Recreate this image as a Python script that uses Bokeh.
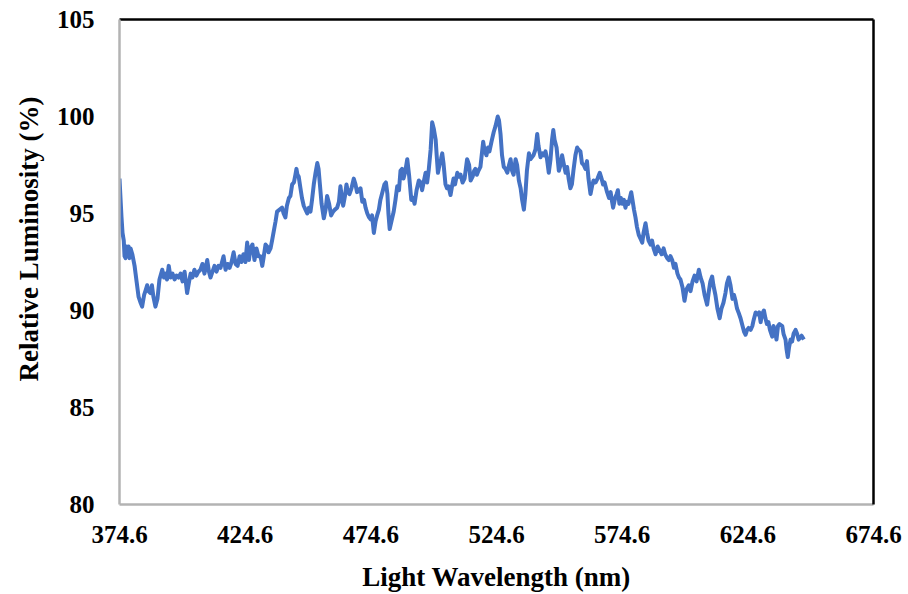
from bokeh.plotting import figure
from bokeh.models import FixedTicker, LinearAxis, PrintfTickFormatter, Range1d, Title
from bokeh.embed import file_html
from bokeh.resources import INLINE

wavelength = [
    374.6, 375.0, 375.4, 375.8, 376.3, 376.6, 377.0, 377.4, 377.8, 378.2, 378.6, 379.0, 379.7,
    380.6, 381.4, 382.2, 383.0, 383.6, 384.4, 384.9, 385.6, 386.1, 386.9, 387.5, 388.1, 388.9,
    389.7, 390.5, 391.6, 392.3, 392.9, 393.5, 394.2, 394.9, 395.7, 396.5, 397.3, 398.1, 398.9,
    399.7, 400.5, 401.5, 402.3, 402.9, 403.6, 404.4, 405.2, 406.0, 406.8, 407.6, 408.4, 409.5,
    410.2, 410.8, 411.6, 412.4, 413.2, 414.0, 414.8, 416.0, 416.8, 417.6, 418.4, 419.2, 420.0,
    420.8, 421.6, 422.4, 423.1, 423.9, 424.7, 425.4, 426.1, 426.7, 427.5, 428.3, 429.1, 429.9,
    430.7, 431.4, 431.9, 432.7, 433.4, 433.9, 434.7, 435.3, 436.0, 436.7, 437.3, 438.3, 439.3,
    439.9, 440.6, 441.2, 442.0, 442.6, 443.3, 444.0, 444.6, 445.0, 445.4, 445.9, 446.6, 447.2,
    447.9, 448.6, 449.3, 450.0, 450.6, 451.2, 451.9, 452.6, 453.3, 453.8, 454.4, 455.0, 455.9,
    456.6, 457.2, 458.0, 458.8, 459.6, 460.3, 461.2, 461.9, 462.5, 463.1, 463.6, 464.3, 464.9,
    465.5, 466.1, 466.9, 467.8, 468.5, 469.1, 469.7, 470.5, 471.2, 471.9, 472.5, 473.2, 473.9,
    474.5, 475.1, 475.8, 476.5, 477.1, 477.8, 478.4, 479.2, 480.0, 480.6, 481.2, 481.6, 482.1,
    482.8, 483.7, 484.4, 485.1, 485.8, 486.4, 487.0, 487.6, 488.2, 489.1, 489.8, 490.7, 491.4,
    492.0, 492.8, 493.7, 494.4, 495.0, 495.6, 496.4, 497.0, 497.6, 498.4, 499.0, 499.6, 500.4,
    500.8, 501.3, 501.9, 502.5, 503.0, 503.5, 504.3, 504.9, 505.5, 506.3, 506.9, 507.5, 508.1,
    509.0, 509.7, 510.3, 511.1, 511.9, 512.9, 513.7, 514.3, 515.1, 515.7, 516.2, 516.8, 517.4,
    518.2, 519.3, 519.8, 520.6, 521.2, 521.8, 522.6, 523.5, 524.2, 525.1, 525.6, 526.2, 526.8,
    527.5, 528.2, 528.9, 529.6, 530.2, 530.8, 531.4, 532.2, 532.8, 533.5, 534.2, 534.8, 535.5,
    536.1, 536.7, 537.5, 538.1, 538.7, 539.3, 540.1, 540.8, 541.3, 542.1, 542.9, 543.5, 544.1,
    544.7, 545.4, 546.1, 546.7, 547.2, 547.7, 548.5, 549.4, 550.1, 550.7, 551.3, 552.1, 552.7,
    553.3, 554.0, 554.6, 555.2, 556.0, 556.7, 557.2, 558.0, 558.6, 559.3, 560.0, 560.6, 561.2,
    562.0, 562.6, 563.2, 564.0, 564.8, 565.7, 566.4, 567.0, 567.6, 568.6, 569.4, 570.0, 570.6,
    571.0, 571.8, 572.4, 572.9, 573.5, 574.1, 574.7, 575.3, 575.9, 576.5, 577.1, 578.2, 578.7,
    579.3, 579.9, 580.5, 581.2, 581.9, 582.6, 583.1, 583.9, 584.5, 585.1, 585.9, 586.5, 587.1,
    587.9, 588.7, 589.5, 590.3, 591.1, 591.7, 592.5, 593.2, 593.8, 594.5, 595.2, 595.8, 596.6,
    597.2, 597.8, 598.6, 599.4, 600.2, 601.1, 601.8, 602.6, 603.4, 604.2, 605.1, 605.8, 606.6,
    607.4, 608.4, 609.1, 609.7, 610.4, 610.9, 611.7, 612.5, 613.4, 614.1, 614.9, 615.7, 616.3,
    617.0, 617.7, 618.5, 619.1, 619.7, 620.3, 620.9, 621.7, 622.5, 623.1, 623.7, 624.3, 624.9,
    625.7, 626.4, 626.9, 627.7, 628.5, 629.1, 629.7, 630.2, 631.0, 631.6, 632.2, 632.8, 633.4,
    634.3, 634.8, 635.4, 636.0, 636.6, 637.2, 638.3, 638.8, 639.6, 640.0, 640.5, 641.0, 641.6,
    642.2, 642.8, 643.6, 644.2, 644.8, 645.4, 646.0, 646.9,
]

luminosity = [
    96.8, 95.8, 94.8, 94.0, 93.6, 92.8, 92.7, 93.3, 92.8, 93.3, 92.7, 93.2, 92.9,
    92.3, 91.5, 90.7, 90.4, 90.2, 90.8, 91.0, 91.3, 91.0, 90.9, 91.3, 90.7, 90.2,
    90.6, 91.6, 92.1, 91.7, 91.9, 91.6, 92.3, 91.7, 91.9, 91.6, 91.8, 91.7, 91.9,
    91.5, 92.0, 90.9, 91.5, 91.9, 91.7, 92.1, 91.8, 92.0, 92.1, 92.4, 91.9, 92.6,
    92.0, 91.7, 92.0, 92.3, 92.0, 92.3, 92.2, 92.8, 92.1, 92.4, 92.2, 92.5, 93.0,
    92.4, 92.3, 92.8, 92.5, 92.9, 92.5, 93.5, 92.6, 93.2, 93.4, 92.6, 93.2, 92.8,
    92.8, 92.3, 92.7, 93.4, 93.3, 93.0, 93.2, 93.6, 94.1, 94.6, 95.1, 95.2, 95.3,
    95.0, 94.8, 95.4, 95.8, 95.9, 96.5, 96.6, 97.0, 97.3, 97.0, 96.9, 96.3, 95.8,
    95.4, 95.2, 95.0, 95.3, 95.1, 95.7, 96.5, 97.1, 97.6, 97.3, 96.4, 95.5, 94.75,
    95.2, 95.9, 95.5, 94.9, 95.1, 95.2, 95.3, 95.6, 96.4, 95.8, 95.4, 95.9, 96.5,
    96.1, 96.0, 96.3, 96.8, 96.5, 96.1, 96.2, 96.3, 95.6, 95.7, 95.3, 95.0, 94.8,
    94.7, 94.9, 94.0, 94.6, 94.9, 95.2, 95.7, 96.1, 96.5, 96.6, 96.0, 95.0, 94.2,
    94.6, 95.1, 95.7, 96.4, 96.2, 97.2, 97.3, 96.8, 97.1, 97.8, 97.0, 95.7, 95.8,
    95.5, 96.2, 96.7, 96.6, 96.2, 96.6, 97.1, 96.6, 97.2, 98.3, 99.7, 99.4, 98.8,
    98.0, 97.1, 97.5, 97.8, 98.1, 97.6, 96.5, 96.3, 96.4, 95.95, 96.4, 96.8, 96.5,
    97.1, 96.9, 97.0, 96.6, 96.8, 97.8, 97.5, 96.7, 96.9, 97.2, 97.3, 97.0, 97.2,
    97.4, 98.7, 98.3, 98.0, 98.4, 98.2, 98.7, 99.2, 99.5, 100.0, 99.8, 99.1, 98.0,
    97.4, 97.3, 97.1, 97.5, 97.8, 97.2, 97.0, 97.8, 97.5, 96.7, 96.3, 95.7, 95.2,
    96.0, 97.2, 98.1, 97.8, 97.9, 98.0, 98.3, 99.1, 98.5, 97.9, 98.1, 98.0, 98.2,
    97.8, 97.1, 97.8, 98.8, 99.3, 98.8, 98.4, 97.2, 97.5, 98.0, 97.6, 97.1, 97.4,
    96.8, 96.3, 96.5, 97.2, 98.0, 98.4, 98.3, 98.2, 97.6, 97.5, 97.3, 97.7, 96.8,
    96.0, 96.4, 96.7, 96.6, 96.8, 97.1, 96.8, 96.5, 96.6, 96.1, 95.8, 96.1, 95.6,
    95.3, 95.8, 96.0, 96.2, 95.5, 95.8, 95.5, 95.7, 95.3, 95.6, 95.5, 96.1, 95.7,
    95.2, 94.8, 94.3, 93.9, 93.7, 93.5, 94.0, 94.5, 94.0, 93.6, 93.4, 93.6, 93.2,
    92.9, 93.3, 93.1, 92.9, 93.2, 92.9, 92.7, 92.6, 92.8, 92.6, 92.2, 92.4, 91.9,
    91.7, 91.6, 91.2, 90.5, 91.1, 91.3, 91.0, 91.5, 91.8, 91.5, 92.1, 91.7, 91.4,
    90.8, 90.3, 91.0, 91.5, 91.75, 91.3, 90.8, 90.1, 89.6, 90.1, 90.4, 90.9, 91.4,
    91.7, 91.3, 90.6, 90.8, 90.5, 90.1, 89.9, 89.6, 89.2, 88.9, 88.75, 89.0, 89.1,
    89.0, 89.2, 89.5, 89.9, 89.8, 89.9, 89.4, 89.8, 90.0, 89.6, 89.3, 89.4, 89.0,
    88.65, 89.2, 89.0, 88.5, 89.2, 89.3, 89.2, 88.8, 88.5, 88.0, 87.6, 88.1, 88.5,
    88.4, 88.8, 89.0, 88.8, 88.5, 88.6, 88.7, 88.5,
]

x_ticks = [374.6, 424.6, 474.6, 524.6, 574.6, 624.6, 674.6]
y_ticks = [80, 85, 90, 95, 100, 105]

FONT = "Liberation Serif"

p = figure(
    width=908, height=594,
    x_range=Range1d(374.6, 674.6), y_range=Range1d(80, 105),
    output_backend="svg", toolbar_location=None,
    min_border_left=119, min_border_right=35, min_border_top=19, min_border_bottom=89,
    x_axis_label="Light Wavelength (nm)",
)
p.outline_line_color = None
p.grid.visible = False
p.background_fill_color = "white"
p.border_fill_color = "white"

p.line(wavelength, luminosity, line_color="#4472C4", line_width=4, line_join="round")

for ax in (p.xaxis[0], p.yaxis[0]):
    ax.axis_line_color = "#b3b3b3"
    ax.axis_line_width = 2.5
    ax.major_tick_line_color = None
    ax.minor_tick_line_color = None
    ax.major_tick_out = 0
    ax.major_tick_in = 0
    ax.minor_tick_out = 0
    ax.minor_tick_in = 0
    ax.major_label_text_font = FONT
    ax.major_label_text_font_style = "bold"
    ax.major_label_text_font_size = "25px"
    ax.major_label_text_color = "black"
    ax.axis_label_text_font = FONT
    ax.axis_label_text_font_style = "bold"
    ax.axis_label_text_font_size = "27px"
    ax.axis_label_text_color = "black"

p.xaxis[0].ticker = FixedTicker(ticks=x_ticks)
p.xaxis[0].formatter = PrintfTickFormatter(format="%.1f")
p.yaxis[0].ticker = FixedTicker(ticks=y_ticks)
p.xaxis[0].major_label_standoff = 21
p.xaxis[0].axis_label_standoff = 16
p.yaxis[0].major_label_standoff = 25

ytitle = Title(text="Relative Luminosity (%)", align="left", offset=123, standoff=20,
               text_font=FONT, text_font_style="bold", text_font_size="27px",
               text_color="black")
p.add_layout(ytitle, "left")

for loc in ("above", "right"):
    ax = LinearAxis(ticker=FixedTicker(ticks=[]), axis_line_color="black", axis_line_width=2.5,
                    major_tick_out=0, major_tick_in=0, minor_tick_out=0, minor_tick_in=0,
                    major_label_text_font_size="0px")
    p.add_layout(ax, loc)

open("out.html", "w").write(file_html(p, INLINE))
